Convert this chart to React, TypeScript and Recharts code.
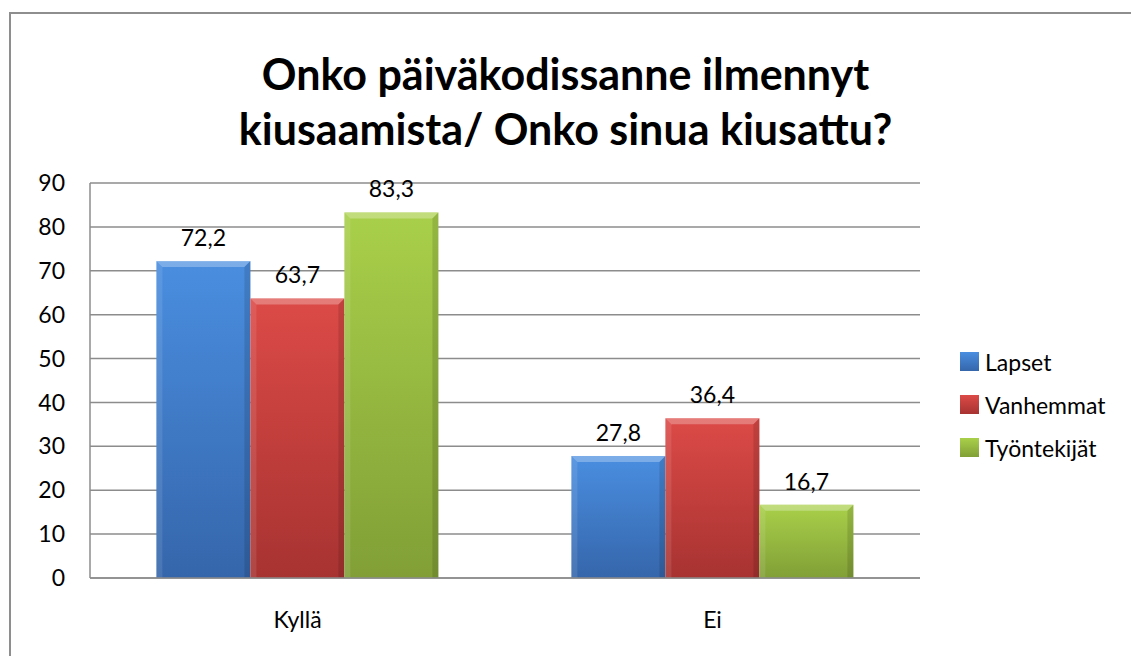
import { BarChart, Bar, XAxis, YAxis, CartesianGrid, LabelList } from "recharts";

const categories = ["Kyllä", "Ei"];
const lapset = [72.2, 27.8];
const vanhemmat = [63.7, 36.4];
const tyontekijat = [83.3, 16.7];
const yTicks = [0, 10, 20, 30, 40, 50, 60, 70, 80, 90];

const series = [
  { key: "lapset", name: "Lapset", top: "#4a8ee0", bottom: "#3566ab" },
  { key: "vanhemmat", name: "Vanhemmat", top: "#dc4a47", bottom: "#a73331" },
  { key: "tyontekijat", name: "Työntekijät", top: "#a9d04a", bottom: "#819f36" },
];

const data = categories.map((c, i) => ({
  category: c,
  lapset: lapset[i],
  vanhemmat: vanhemmat[i],
  tyontekijat: tyontekijat[i],
}));

const FONT = "Lato, 'Open Sans', sans-serif";
const FS = 23;

function BevelBar(props: any) {
  const { x, y, width, height, id } = props;
  if (!height || height <= 0) return null;
  const b = 6;
  return (
    <g>
      <rect x={x} y={y} width={width} height={height} fill={`url(#grad-${id})`} />
      <polygon
        points={`${x},${y} ${x + width},${y} ${x + width - b},${y + b} ${x + b},${y + b}`}
        fill="#ffffff"
        opacity={0.28}
      />
      <polygon
        points={`${x},${y} ${x + b},${y + b} ${x + b},${y + height} ${x},${y + height}`}
        fill="#ffffff"
        opacity={0.1}
      />
      <polygon
        points={`${x + width},${y} ${x + width - b},${y + b} ${x + width - b},${y + height} ${x + width},${y + height}`}
        fill="#000000"
        opacity={0.12}
      />
    </g>
  );
}

function LegendBox() {
  return (
    <div style={{ position: "absolute", left: 960, top: 340, fontFamily: FONT, fontSize: FS, color: "#000" }}>
      {series.map((s) => (
        <div key={s.key} style={{ display: "flex", alignItems: "center", height: 43 }}>
          <span
            style={{
              display: "inline-block",
              width: 19,
              height: 19,
              marginRight: 6,
              background: `linear-gradient(${s.top}, ${s.bottom})`,
            }}
          />
          {s.name}
        </div>
      ))}
    </div>
  );
}

const fmt = (v: any) => String(v).replace(".", ",");

export default function App() {
  return (
    <div style={{ position: "absolute", left: 0, top: 0, width: 1131, height: 656, background: "#fff", overflow: "hidden" }}>
      <div
        style={{
          position: "absolute",
          left: 9,
          top: 12,
          width: 1200,
          height: 700,
          border: "2px solid #8e8e8e",
          boxSizing: "border-box",
        }}
      />
      <div
        style={{
          position: "absolute",
          left: 0,
          top: 46,
          width: 1131,
          textAlign: "center",
          fontFamily: FONT,
          fontWeight: 700,
          fontSize: 43,
          lineHeight: "55px",
          color: "#000",
        }}
      >
        Onko päiväkodissanne ilmennyt
        <br />
        kiusaamista/ Onko sinua kiusattu?
      </div>
      <div style={{ position: "absolute", left: 0, top: 0 }}>
        <BarChart
          width={1131}
          height={656}
          data={data}
          margin={{ top: 183, right: 211, bottom: 48, left: 30 }}
          barCategoryGap="16%"
          barGap={0}
        >
          <defs>
            {series.map((s) => (
              <linearGradient key={s.key} id={`grad-${s.key}`} x1="0" y1="0" x2="0" y2="1">
                <stop offset="0%" stopColor={s.top} />
                <stop offset="100%" stopColor={s.bottom} />
              </linearGradient>
            ))}
          </defs>
          <CartesianGrid vertical={false} stroke="#8c8c8c" strokeWidth={1.5} />
          <XAxis
            dataKey="category"
            height={30}
            stroke="#8c8c8c"
            strokeWidth={1.5}
            tickLine={false}
            tickSize={0}
            tickMargin={34}
            tick={{ fontFamily: FONT, fontSize: FS, fill: "#000" }}
          />
          <YAxis
            width={60}
            domain={[0, 90]}
            ticks={yTicks}
            stroke="#8c8c8c"
            strokeWidth={1.5}
            tickLine={false}
            tickSize={0}
            tickMargin={25}
            interval={0}
            tick={{ fontFamily: FONT, fontSize: FS, fill: "#000" }}
          />
          {series.map((s) => (
            <Bar
              key={s.key}
              dataKey={s.key}
              name={s.name}
              fill={s.top}
              isAnimationActive={false}
              shape={(p: any) => <BevelBar {...p} id={s.key} />}
            >
              <LabelList
                dataKey={s.key}
                position="top"
                offset={15}
                formatter={fmt}
                style={{ fontFamily: FONT, fontSize: FS, fill: "#000" }}
              />
            </Bar>
          ))}
        </BarChart>
      </div>
      <LegendBox />
    </div>
  );
}
